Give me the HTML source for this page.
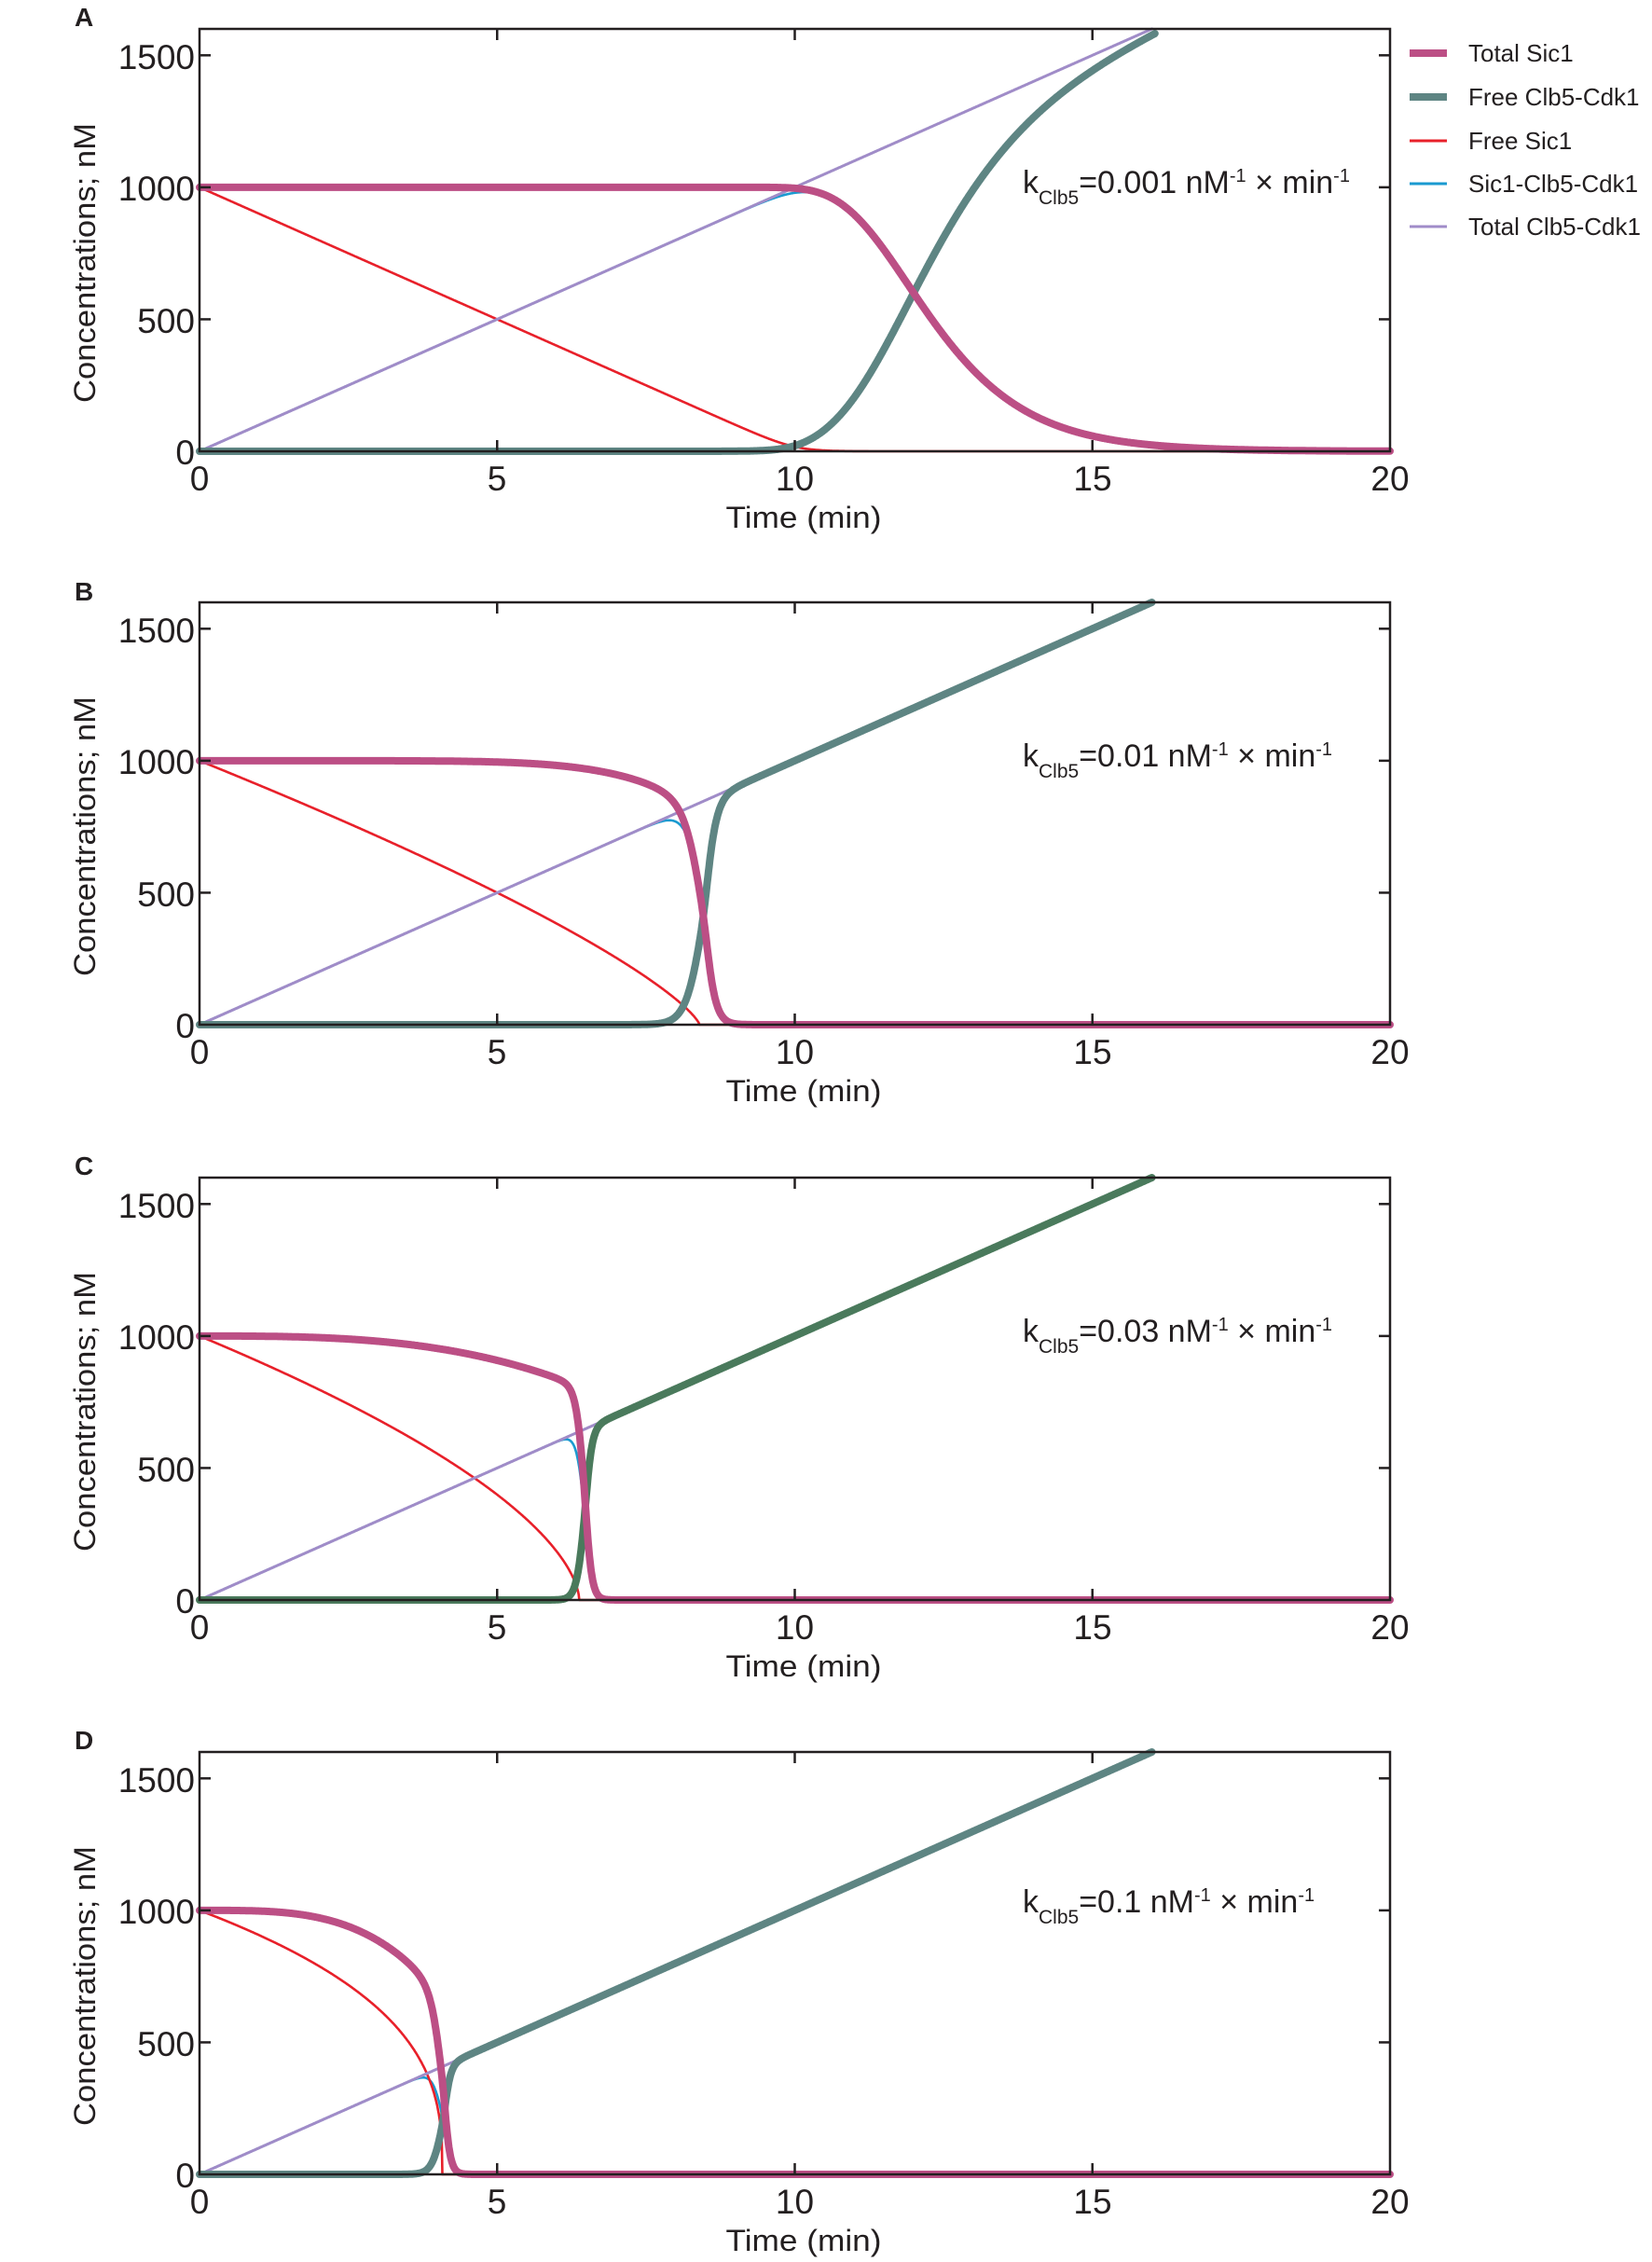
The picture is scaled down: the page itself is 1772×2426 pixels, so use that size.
<!DOCTYPE html>
<html><head><meta charset="utf-8">
<style>
html,body{margin:0;padding:0;background:#fff;}
svg{display:block;}
text{font-family:"Liberation Sans",sans-serif;fill:#231f20;}
</style></head>
<body>
<svg id="s" width="1772" height="2426" viewBox="0 0 1772 2426" xmlns="http://www.w3.org/2000/svg">
<g id="curves"></g>
<g id="frames" fill="none" stroke="#231f20" stroke-width="2.5"></g>

<text x="80" y="28" font-size="28" font-weight="bold">A</text>
<text x="80" y="644" font-size="28" font-weight="bold">B</text>
<text x="80" y="1260" font-size="28" font-weight="bold">C</text>
<text x="80" y="1876" font-size="28" font-weight="bold">D</text>

<g font-size="37" text-anchor="end">
<text x="209" y="74">1500</text><text x="209" y="215">1000</text><text x="209" y="357">500</text><text x="209" y="498">0</text>
<text x="209" y="689">1500</text><text x="209" y="830">1000</text><text x="209" y="972">500</text><text x="209" y="1113">0</text>
<text x="209" y="1306">1500</text><text x="209" y="1447">1000</text><text x="209" y="1589">500</text><text x="209" y="1730">0</text>
<text x="209" y="1922">1500</text><text x="209" y="2063">1000</text><text x="209" y="2205">500</text><text x="209" y="2346">0</text>
</g>
<g font-size="37" text-anchor="middle">
<text x="214" y="526">0</text><text x="533" y="526">5</text><text x="852.5" y="526">10</text><text x="1172" y="526">15</text><text x="1491" y="526">20</text>
<text x="214" y="1141">0</text><text x="533" y="1141">5</text><text x="852.5" y="1141">10</text><text x="1172" y="1141">15</text><text x="1491" y="1141">20</text>
<text x="214" y="1758">0</text><text x="533" y="1758">5</text><text x="852.5" y="1758">10</text><text x="1172" y="1758">15</text><text x="1491" y="1758">20</text>
<text x="214" y="2374">0</text><text x="533" y="2374">5</text><text x="852.5" y="2374">10</text><text x="1172" y="2374">15</text><text x="1491" y="2374">20</text>
</g>
<g font-size="32" text-anchor="middle">
<text x="862" y="566" textLength="167" lengthAdjust="spacingAndGlyphs">Time (min)</text>
<text x="862" y="1181" textLength="167" lengthAdjust="spacingAndGlyphs">Time (min)</text>
<text x="862" y="1798" textLength="167" lengthAdjust="spacingAndGlyphs">Time (min)</text>
<text x="862" y="2414" textLength="167" lengthAdjust="spacingAndGlyphs">Time (min)</text>
<text transform="translate(102,282) rotate(-90)" textLength="300" lengthAdjust="spacingAndGlyphs">Concentrations; nM</text>
<text transform="translate(102,897) rotate(-90)" textLength="300" lengthAdjust="spacingAndGlyphs">Concentrations; nM</text>
<text transform="translate(102,1514) rotate(-90)" textLength="300" lengthAdjust="spacingAndGlyphs">Concentrations; nM</text>
<text transform="translate(102,2130) rotate(-90)" textLength="300" lengthAdjust="spacingAndGlyphs">Concentrations; nM</text>
</g>

<g font-size="34">
<text x="1097" y="207">k<tspan font-size="21" dy="12">Clb5</tspan><tspan dy="-12">=0.001 nM</tspan><tspan font-size="20" dy="-12">-1</tspan><tspan dy="12"> × min</tspan><tspan font-size="20" dy="-12">-1</tspan></text>
<text x="1097" y="822">k<tspan font-size="21" dy="12">Clb5</tspan><tspan dy="-12">=0.01 nM</tspan><tspan font-size="20" dy="-12">-1</tspan><tspan dy="12"> × min</tspan><tspan font-size="20" dy="-12">-1</tspan></text>
<text x="1097" y="1439">k<tspan font-size="21" dy="12">Clb5</tspan><tspan dy="-12">=0.03 nM</tspan><tspan font-size="20" dy="-12">-1</tspan><tspan dy="12"> × min</tspan><tspan font-size="20" dy="-12">-1</tspan></text>
<text x="1097" y="2051">k<tspan font-size="21" dy="12">Clb5</tspan><tspan dy="-12">=0.1 nM</tspan><tspan font-size="20" dy="-12">-1</tspan><tspan dy="12"> × min</tspan><tspan font-size="20" dy="-12">-1</tspan></text>
</g>

<g>
<line x1="1512" y1="57" x2="1552" y2="57" stroke="#bc4f85" stroke-width="8"/>
<line x1="1512" y1="104" x2="1552" y2="104" stroke="#5e8583" stroke-width="8"/>
<line x1="1512" y1="151" x2="1552" y2="151" stroke="#e8202a" stroke-width="3"/>
<line x1="1512" y1="197" x2="1552" y2="197" stroke="#1a9ad0" stroke-width="3"/>
<line x1="1512" y1="243" x2="1552" y2="243" stroke="#a08cc8" stroke-width="3"/>
<g font-size="26">
<text x="1575" y="66">Total Sic1</text>
<text x="1575" y="113">Free Clb5-Cdk1</text>
<text x="1575" y="160">Free Sic1</text>
<text x="1575" y="206">Sic1-Clb5-Cdk1</text>
<text x="1575" y="252">Total Clb5-Cdk1</text>
</g>
</g>
</svg>
<script>
(function(){
var NS="http://www.w3.org/2000/svg";
var L=214,R=1491,H=453;
var tops=[31,646,1263,1879];
var sig=function(z){return 1/(1+Math.exp(-z));};
var P=[
 {A:true,g:"#5e8583"},
 {tc:8.47,wl:0.146,wh:0.1,a:200,n:7,T:8.4,p:0.766,g:"#5e8583"},
 {tc:6.47,wl:0.07,wh:0.06,a:200,n:3,T:6.38,p:0.6,g:"#4a7a5c"},
 {tc:4.09,wl:0.09,wh:0.06,a:340,n:3.5,T:4.08,p:0.35,g:"#5e8583"}
];
var cg=document.getElementById("curves"),fg=document.getElementById("frames");
function add(par,tag,at){var e=document.createElementNS(NS,tag);for(var k in at)e.setAttribute(k,at[k]);par.appendChild(e);return e;}
P.forEach(function(q,i){
 var top=tops[i],bot=top+H;
 var X=function(t){return L+t*(R-L)/20;};
 var Y=function(v){return bot-v*H/1600;};
 var pts={S:[],X:[],F:[],C:[],T:[]};
 for(var k=0;k<=2000;k++){
  var t=k/100,tot=100*t;
  var xf,S,F,C;
  if(q.A){
   S=1000*(1-Math.exp(-Math.exp(-(t-11.9)/1.1)));
   F=25*Math.log(1+Math.exp((10-t)/0.25));
   C=Math.min(tot,S-F); if(C<0)C=0;
   xf=tot-C;
  }else{
   var w=q.wl+(q.wh-q.wl)*sig((t-q.tc)/(0.5*Math.min(q.wl,q.wh)));
   var s=sig((t-q.tc)/w);
   xf=tot*s;
   S=(1000-q.a*Math.pow(t/q.tc,q.n))*(1-s);
   F=t<q.T?1000*Math.pow(1-t/q.T,q.p):0;
   C=t<q.tc?tot-xf:Math.min(tot-xf,S);
  }
  if(S<0)S=0; if(C<0)C=0;
  var px=X(t).toFixed(1);
  pts.S.push(px+","+Y(S).toFixed(1));
  pts.F.push(px+","+Y(F).toFixed(1));
  pts.C.push(px+","+Y(C).toFixed(1));
  if(tot<=1600){pts.T.push(px+","+Y(tot).toFixed(1));}
  if(xf<=1600 && t<=16.05){pts.X.push(px+","+Y(Math.min(xf,1600)).toFixed(1));}
 }
 var o={fill:"none","stroke-linejoin":"round","stroke-linecap":"round"};
 function pl(arr,col,w){var a={};for(var k in o)a[k]=o[k];a.points=arr.join(" ");a.stroke=col;a["stroke-width"]=w;add(cg,"polyline",a);}
 pl(pts.C,"#1a9ad0",2.6);
 pl(pts.F,"#e8202a",2.6);
 pl(pts.T,"#a08cc8",3);
 pl(pts.X,q.g,8);
 pl(pts.S,"#bc4f85",8);
 add(fg,"rect",{x:L,y:top,width:R-L,height:H});
 [500,1000,1500].forEach(function(v){var y=Y(v);
  add(fg,"line",{x1:L,y1:y,x2:L+12,y2:y});add(fg,"line",{x1:R,y1:y,x2:R-12,y2:y});});
 [5,10,15].forEach(function(t){var x=X(t);
  add(fg,"line",{x1:x,y1:bot,x2:x,y2:bot-12});add(fg,"line",{x1:x,y1:top,x2:x,y2:top+12});});
});
})();
</script>
</body></html>
